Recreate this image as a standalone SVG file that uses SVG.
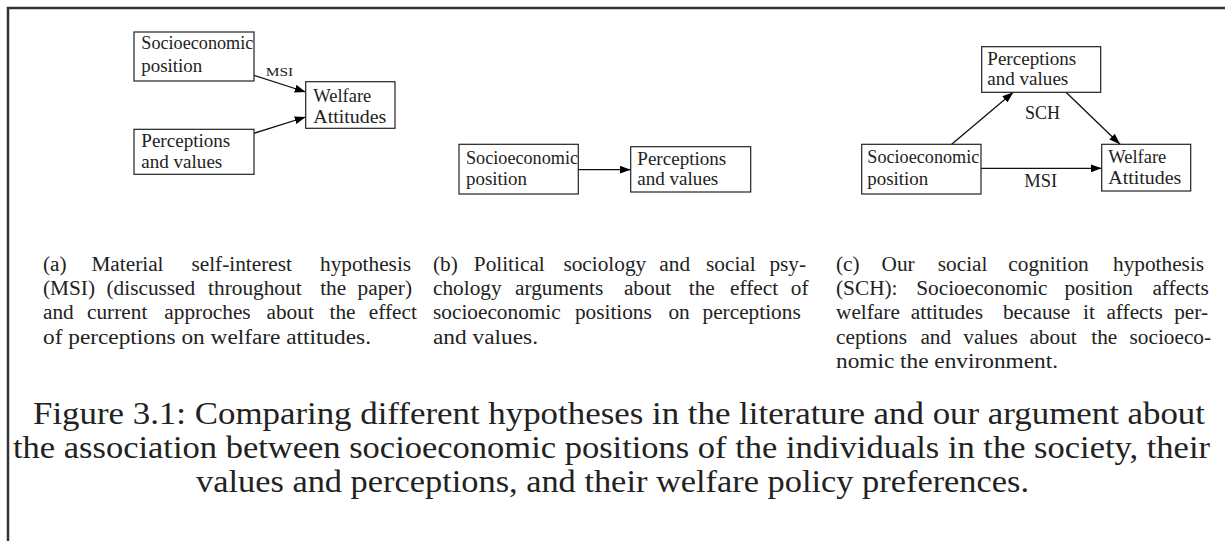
<svg xmlns="http://www.w3.org/2000/svg" width="1225" height="541" viewBox="0 0 1225 541">
<defs>
<style>
.frame{stroke:#333;stroke-width:2.5;fill:none}
.box{fill:#fff;stroke:#222;stroke-width:1.2}
.lbl{font-family:"Liberation Serif","Times New Roman",serif;font-size:18px;fill:#222}
.sm{font-family:"Liberation Serif","Times New Roman",serif;font-size:13px;fill:#222}
.edge{stroke:#111;stroke-width:1.3;fill:none;marker-end:url(#ah)}
.cap{font-family:"Liberation Serif","Times New Roman",serif;font-size:21.3px;fill:#222}
.main{font-family:"Liberation Serif","Times New Roman",serif;font-size:30.5px;fill:#222}
</style>
<marker id="ah" markerUnits="userSpaceOnUse" markerWidth="12" markerHeight="10" refX="11" refY="4" orient="auto">
<path d="M0,0 L11,4 L0,8 z" fill="#000"/>
</marker>
</defs>
<rect width="1225" height="541" fill="#fff"/>
<path class="frame" d="M8,541 V8 H1225"/>

<g id="connectors">
<line class="edge" x1="254" y1="75.3" x2="305.7" y2="92"/>
<line class="edge" x1="254" y1="133.3" x2="305.7" y2="117"/>
<line class="edge" x1="578.3" y1="169.7" x2="630.7" y2="169.7"/>
<line class="edge" x1="951.7" y1="144.3" x2="1013.3" y2="92.3"/>
<line class="edge" x1="1066" y1="92.3" x2="1120" y2="144.3"/>
<line class="edge" x1="981" y1="168.3" x2="1101.7" y2="168.3"/>
<text class="sm" x="265.7" y="76" textLength="27.5" lengthAdjust="spacingAndGlyphs">MSI</text>
<text class="lbl" x="1025" y="119.3" textLength="35" lengthAdjust="spacingAndGlyphs">SCH</text>
<text class="lbl" x="1024.3" y="186.7" textLength="33" lengthAdjust="spacingAndGlyphs">MSI</text>
</g>

<g id="a-socio">
<rect class="box" x="134" y="32" width="120" height="49"/>
<text class="lbl" x="141.3" y="49.3" textLength="112" lengthAdjust="spacingAndGlyphs">Socioeconomic</text>
<text class="lbl" x="141.3" y="71.7" textLength="61" lengthAdjust="spacingAndGlyphs">position</text>
</g>
<g id="a-welfare">
<rect class="box" x="305.7" y="81.7" width="89.3" height="46.6"/>
<text class="lbl" x="313.3" y="101.7" textLength="58" lengthAdjust="spacingAndGlyphs">Welfare</text>
<text class="lbl" x="313.3" y="122.7" textLength="73" lengthAdjust="spacingAndGlyphs">Attitudes</text>
</g>
<g id="a-percep">
<rect class="box" x="134" y="129.3" width="120" height="45"/>
<text class="lbl" x="141.3" y="147.3" textLength="89" lengthAdjust="spacingAndGlyphs">Perceptions</text>
<text class="lbl" x="141.3" y="168.3" textLength="81" lengthAdjust="spacingAndGlyphs">and values</text>
</g>

<g id="b-socio">
<rect class="box" x="459" y="144.3" width="119.3" height="49.7"/>
<text class="lbl" x="466" y="164" textLength="112" lengthAdjust="spacingAndGlyphs">Socioeconomic</text>
<text class="lbl" x="466" y="185" textLength="61" lengthAdjust="spacingAndGlyphs">position</text>
</g>
<g id="b-percep">
<rect class="box" x="630.7" y="146.7" width="120" height="45.3"/>
<text class="lbl" x="637.3" y="165.3" textLength="89" lengthAdjust="spacingAndGlyphs">Perceptions</text>
<text class="lbl" x="637.3" y="185.3" textLength="81" lengthAdjust="spacingAndGlyphs">and values</text>
</g>

<g id="c-percep">
<rect class="box" x="981.7" y="46.7" width="119" height="45.6"/>
<text class="lbl" x="987.3" y="65" textLength="89" lengthAdjust="spacingAndGlyphs">Perceptions</text>
<text class="lbl" x="987.3" y="85" textLength="81" lengthAdjust="spacingAndGlyphs">and values</text>
</g>
<g id="c-socio">
<rect class="box" x="861.7" y="144.3" width="119.3" height="49.7"/>
<text class="lbl" x="867.3" y="162.7" textLength="112" lengthAdjust="spacingAndGlyphs">Socioeconomic</text>
<text class="lbl" x="867.3" y="185" textLength="61" lengthAdjust="spacingAndGlyphs">position</text>
</g>
<g id="c-welfare">
<rect class="box" x="1101.7" y="144.3" width="89" height="46.7"/>
<text class="lbl" x="1108.3" y="162.7" textLength="58" lengthAdjust="spacingAndGlyphs">Welfare</text>
<text class="lbl" x="1108.3" y="184" textLength="73" lengthAdjust="spacingAndGlyphs">Attitudes</text>
</g>

<g id="caption-a" class="cap">
<text y="271"><tspan x="43">(a)</tspan><tspan x="91.4">Material</tspan><tspan x="191.4">self-interest</tspan><tspan x="320">hypothesis</tspan></text>
<text y="295.2"><tspan x="43">(MSI)</tspan><tspan x="106.5">(discussed</tspan><tspan x="208.1">throughout</tspan><tspan x="320.2">the</tspan><tspan x="357.6">paper)</tspan></text>
<text y="319.4"><tspan x="43">and</tspan><tspan x="87">current</tspan><tspan x="164.3">approches</tspan><tspan x="266.5">about</tspan><tspan x="329.5">the</tspan><tspan x="368.8">effect</tspan></text>
<text x="43" y="343.6" textLength="328" lengthAdjust="spacingAndGlyphs">of perceptions on welfare attitudes.</text>
</g>

<g id="caption-b" class="cap">
<text y="271"><tspan x="433">(b)</tspan><tspan x="473.8">Political</tspan><tspan x="563.4">sociology</tspan><tspan x="659.3">and</tspan><tspan x="706">social</tspan><tspan x="769.4">psy-</tspan></text>
<text y="295.2"><tspan x="433">chology</tspan><tspan x="515">arguments</tspan><tspan x="623.9">about</tspan><tspan x="688.8">the</tspan><tspan x="730">effect</tspan><tspan x="790.8">of</tspan></text>
<text y="319.4"><tspan x="433">socioeconomic</tspan><tspan x="574.9">positions</tspan><tspan x="668.4">on</tspan><tspan x="702.5">perceptions</tspan></text>
<text x="433" y="343.6" textLength="105" lengthAdjust="spacingAndGlyphs">and values.</text>
</g>

<g id="caption-c" class="cap">
<text y="271"><tspan x="836">(c)</tspan><tspan x="881.5">Our</tspan><tspan x="937.8">social</tspan><tspan x="1008.3">cognition</tspan><tspan x="1113">hypothesis</tspan></text>
<text y="295.2"><tspan x="836">(SCH):</tspan><tspan x="916.2">Socioeconomic</tspan><tspan x="1064.4">position</tspan><tspan x="1152.4">affects</tspan></text>
<text y="319.4"><tspan x="836">welfare</tspan><tspan x="910.8">attitudes</tspan><tspan x="1002.9">because</tspan><tspan x="1083.1">it</tspan><tspan x="1106.4">affects</tspan><tspan x="1174.2">per-</tspan></text>
<text y="343.6"><tspan x="836">ceptions</tspan><tspan x="920.4">and</tspan><tspan x="963.3">values</tspan><tspan x="1029.4">about</tspan><tspan x="1091.3">the</tspan><tspan x="1129.5">socioeco-</tspan></text>
<text x="836" y="367.8" textLength="222" lengthAdjust="spacingAndGlyphs">nomic the environment.</text>
</g>

<g id="figure-caption" class="main">
<text x="33" y="424" textLength="1172" lengthAdjust="spacingAndGlyphs">Figure 3.1: Comparing different hypotheses in the literature and our argument about</text>
<text x="13" y="458" textLength="1197" lengthAdjust="spacingAndGlyphs">the association between socioeconomic positions of the individuals in the society, their</text>
<text x="196" y="492" textLength="833" lengthAdjust="spacingAndGlyphs">values and perceptions, and their welfare policy preferences.</text>
</g>
</svg>
